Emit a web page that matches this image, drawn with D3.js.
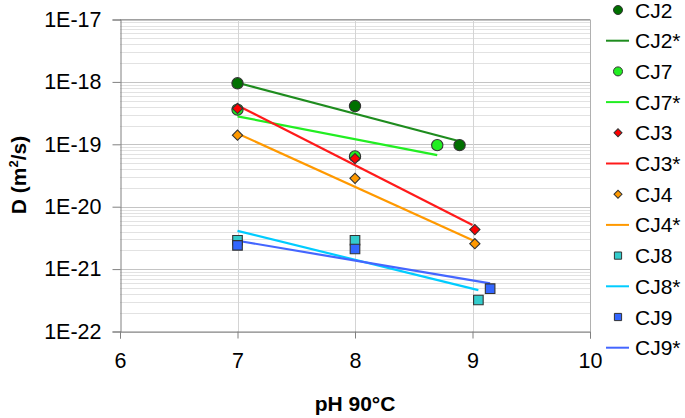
<!DOCTYPE html>
<html><head><meta charset="utf-8">
<script src="https://cdn.jsdelivr.net/npm/d3@7"></script>
<style>body{margin:0;background:#fff}svg{display:block;font-family:"Liberation Sans",Arial,sans-serif}</style>
</head><body><svg id="c" width="685" height="418"></svg>
<script>
const xTicks=[6,7,8,9,10];
const yTicks=[1e-22,1e-21,1e-20,1e-19,1e-18,1e-17];
const yTickLabels=["1E-22","1E-21","1E-20","1E-19","1E-18","1E-17"];
const cj2X=[7,8,8.89], cj2Y=[9.5e-19,4.1e-19,9.7e-20];
const cj2FitX=[7,8.89], cj2FitY=[9.7e-19,1.12e-19];
const cj7X=[7,8,8.7], cj7Y=[3.6e-19,6.4e-20,9.7e-20];
const cj7FitX=[7,8.7], cj7FitY=[2.8e-19,6.7e-20];
const cj3X=[7,8,9.02], cj3Y=[3.75e-19,5.9e-20,4.3e-21];
const cj3FitX=[7,9.0], cj3FitY=[4.2e-19,5.1e-21];
const cj4X=[7,8,9.02], cj4Y=[1.4e-19,2.85e-20,2.55e-21];
const cj4FitX=[7,9.02], cj4FitY=[1.49e-19,2.8e-21];
const cj8X=[7,8,9.05], cj8Y=[2.9e-21,2.9e-21,3.2e-22];
const cj8FitX=[7,9.05], cj8FitY=[4.1e-21,4.6e-22];
const cj9X=[7,8,9.15], cj9Y=[2.4e-21,2.1e-21,4.85e-22];
const cj9FitX=[7,9.15], cj9FitY=[2.85e-21,5.9e-22];

const series=[
 {name:"CJ2",x:cj2X,y:cj2Y,fx:cj2FitX,fy:cj2FitY,shape:"circle",fill:"#007000",line:"#1e8c1e"},
 {name:"CJ7",x:cj7X,y:cj7Y,fx:cj7FitX,fy:cj7FitY,shape:"circle",fill:"#22ee22",line:"#22ee22"},
 {name:"CJ3",x:cj3X,y:cj3Y,fx:cj3FitX,fy:cj3FitY,shape:"diamond",fill:"#ff0000",line:"#ff1a1a"},
 {name:"CJ4",x:cj4X,y:cj4Y,fx:cj4FitX,fy:cj4FitY,shape:"diamond",fill:"#ff9900",line:"#ff9900"},
 {name:"CJ8",x:cj8X,y:cj8Y,fx:cj8FitX,fy:cj8FitY,shape:"square",fill:"#33cccc",line:"#00ccff"},
 {name:"CJ9",x:cj9X,y:cj9Y,fx:cj9FitX,fy:cj9FitY,shape:"square",fill:"#3366ff",line:"#4466ff"}
];

const svg=d3.select("#c");
const x=d3.scaleLinear().domain([6,10]).range([120,590]);
const y=d3.scaleLog().domain([1e-22,1e-17]).range([331.5,19.5]);

// gridlines
const g=svg.append("g");
const minor=[];
for(let e=-22;e<-17;e++){for(let m=2;m<=9;m++)minor.push(m*Math.pow(10,e));}
g.selectAll(".mn").data(minor).enter().append("line")
 .attr("x1",120).attr("x2",590).attr("y1",d=>Math.round(y(d))+0.5).attr("y2",d=>Math.round(y(d))+0.5)
 .attr("stroke","#e2e2e2").attr("stroke-width",1);
g.selectAll(".mj").data(yTicks).enter().append("line")
 .attr("x1",120).attr("x2",590).attr("y1",d=>Math.round(y(d))+0.5).attr("y2",d=>Math.round(y(d))+0.5)
 .attr("stroke","#c4c4c4").attr("stroke-width",1);
g.selectAll(".vx").data(xTicks.slice(1)).enter().append("line")
 .attr("x1",d=>Math.round(x(d))+0.5).attr("x2",d=>Math.round(x(d))+0.5).attr("y1",19.5).attr("y2",331.5)
 .attr("stroke",(d,i)=>d===10?"#b0b0b0":"#d4d4d4").attr("stroke-width",1);
g.append("line").attr("x1",120).attr("x2",590).attr("y1",19.5).attr("y2",19.5).attr("stroke","#a0a0a0");

// axes
const yAxis=d3.axisLeft(y).tickValues(yTicks).tickFormat((d,i)=>yTickLabels[i]).tickSize(8).tickPadding(11);
const ya=svg.append("g").attr("transform","translate(120.5,0)").call(yAxis);
ya.select(".domain").attr("stroke","#808080");
ya.selectAll(".tick line").attr("stroke","#808080");
ya.selectAll("text").attr("font-size","21.5px").attr("fill","#000").attr("font-family","Liberation Sans, Arial, sans-serif");
const xAxis=d3.axisBottom(x).tickValues(xTicks).tickFormat(d3.format("d")).tickSize(7).tickPadding(14);
const xa=svg.append("g").attr("transform","translate(0,331.5)").call(xAxis);
xa.select(".domain").attr("stroke","#808080");
xa.selectAll(".tick line").attr("stroke","#808080");
xa.selectAll("text").attr("font-size","21.5px").attr("fill","#000").attr("font-family","Liberation Sans, Arial, sans-serif");

// fit lines
const line=d3.line().x(d=>x(d[0])).y(d=>y(d[1]));
series.forEach(s=>{
 svg.append("path").datum(s.fx.map((v,i)=>[v,s.fy[i]])).attr("d",line)
  .attr("fill","none").attr("stroke",s.line).attr("stroke-width",2.2);
});
function sym(shape,size){
 if(shape==="circle")return d3.symbol(d3.symbolCircle,size)();
 if(shape==="diamond")return d3.symbol(d3.symbolSquare,size)();
 return d3.symbol(d3.symbolSquare,size)();
}
series.forEach(s=>{
 const sz=s.shape==="circle"?100:(s.shape==="diamond"?52:92);
 svg.append("g").selectAll("path").data(s.x.map((v,i)=>[v,s.y[i]])).enter().append("path")
  .attr("d",sym(s.shape,sz))
  .attr("transform",d=>`translate(${x(d[0])},${y(d[1])})`+(s.shape==="diamond"?" rotate(45)":""))
  .attr("fill",s.fill).attr("stroke","#333").attr("stroke-width",1.1);
});

// legend
const leg=svg.append("g");
series.forEach((s,i)=>{
 const y0=10+i*2*30.7, y1=y0+30.7;
 const sz=s.shape==="circle"?64:(s.shape==="diamond"?32:52);
 leg.append("path").attr("d",sym(s.shape,sz))
  .attr("transform",`translate(618,${y0})`+(s.shape==="diamond"?" rotate(45)":""))
  .attr("fill",s.fill).attr("stroke","#333").attr("stroke-width",1);
 leg.append("text").attr("x",635).attr("y",y0).attr("dy","0.36em").attr("font-size","21px").text(s.name);
 leg.append("line").attr("x1",606).attr("x2",629).attr("y1",y1).attr("y2",y1).attr("stroke",s.line).attr("stroke-width",2);
 leg.append("text").attr("x",635).attr("y",y1).attr("dy","0.36em").attr("font-size","21px").text(s.name+"*");
});

// axis titles
svg.append("text").attr("x",355).attr("y",411).attr("text-anchor","middle").attr("font-weight","bold").attr("font-size","21px").text("pH 90°C");
const yt=svg.append("text").attr("transform","translate(26,175) rotate(-90)").attr("text-anchor","middle").attr("font-weight","bold").attr("font-size","21px");
yt.append("tspan").text("D (m");
yt.append("tspan").attr("font-size","13px").attr("dy","-8").text("2");
yt.append("tspan").attr("dy","8").text("/s)");
</script></body></html>
